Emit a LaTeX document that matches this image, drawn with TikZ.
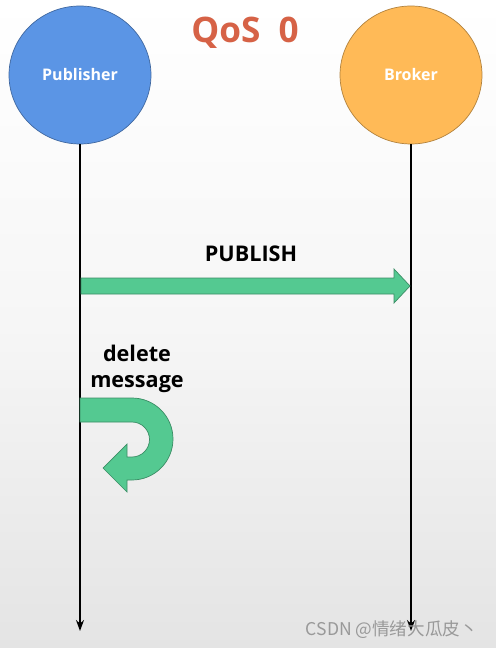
\documentclass[tikz,border=0pt]{standalone}
\usepackage{fontspec}
\setmainfont{Open Sans}
\newfontfamily\cjkfont{Noto Sans CJK SC}
\usetikzlibrary{shapes.geometric,arrows.meta}
\definecolor{pubblue}{RGB}{91,149,229}
\definecolor{brkorange}{RGB}{255,186,87}
\definecolor{fatgreen}{RGB}{84,201,145}
\definecolor{qosred}{RGB}{214,98,70}
\tikzset{
  actor/.style={ellipse,minimum width=2.84cm,minimum height=2.76cm,text=white,font=\bfseries\fontsize{9.1}{11}\selectfont},
  fatarrow/.style={fill=fatgreen,draw=fatgreen!70!black,line width=.4pt},
  lifeline/.style={thick,-{Stealth[length=2.2mm,width=1.6mm]}}
}
\begin{document}
\begin{tikzpicture}[x=0.02cm,y=-0.02cm]
\shade[top color=white,bottom color={rgb,255:red,228;green,228;blue,228},middle color={rgb,255:red,246;green,246;blue,246}] (0,0) rectangle (496,648);
\useasboundingbox (0,0) rectangle (496,648);
\node[text=qosred,font=\bfseries\fontsize{20}{24}\selectfont] (title) at (245,33) {QoS\ \ 0};
\node[actor,fill=pubblue,draw=pubblue!70!black] (pub) at (80,75) {Publisher};
\node[actor,fill=brkorange,draw=brkorange!70!black] (brk) at (411,75) {Broker};
\coordinate (pubend) at (80,631);
\coordinate (brkend) at (411,631);
\draw[lifeline] (pub.south) -- (pubend);
\draw[lifeline] (brk.south) -- (brkend);
% publish message
\draw[fatarrow] (81,278)--(394,278)--(394,269)--(410,286)--(394,303)--(394,294)--(81,294)--cycle;
\node[font=\bfseries\fontsize{12.3}{14}\selectfont] (publish) at (251,254) {PUBLISH};
% delete
\node[font=\bfseries\fontsize{12.3}{14.7}\selectfont,align=center] (delete) at (137,369) {delete\\message};
\draw[fatarrow] (80,398)--(132,398) arc[start angle=-90,end angle=90,radius=41]
  --(127,480)--(127,492)--(103,468)--(127,444)--(127,457)--(132,457)
  arc[start angle=90,end angle=-90,radius=17.5]--(80,422)--cycle;
\node[text=gray!80,font=\cjkfont\fontsize{10}{12}\selectfont,anchor=east] (mark) at (484,630) {CSDN @情绪大瓜皮丶};
\end{tikzpicture}
\end{document}
